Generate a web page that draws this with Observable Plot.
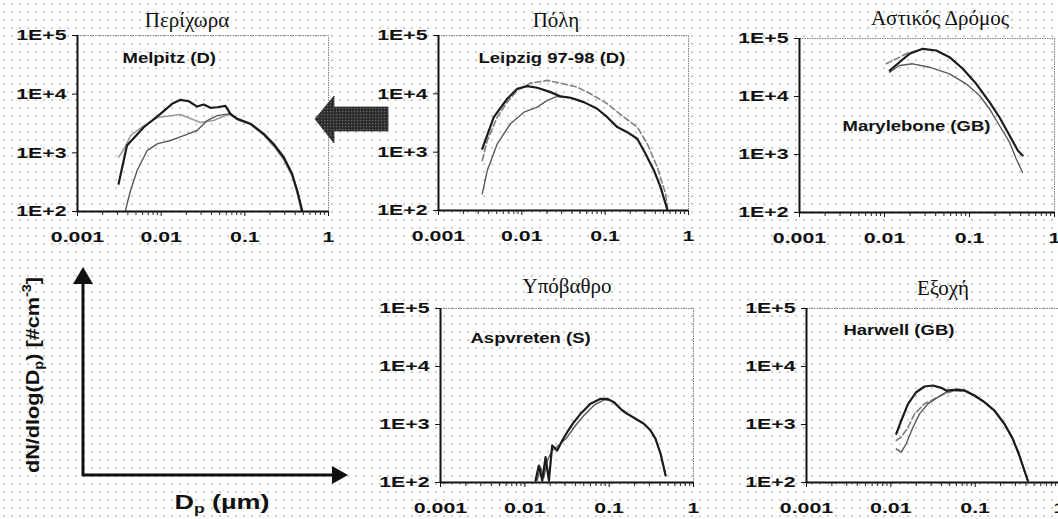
<!DOCTYPE html>
<html><head><meta charset="utf-8">
<script src="https://cdn.jsdelivr.net/npm/d3@7"></script>
<script src="https://cdn.jsdelivr.net/npm/@observablehq/plot@0.6"></script>
<style>
html,body{margin:0;padding:0;background:#fff;}
#wrap{position:relative;width:1058px;height:519px;overflow:hidden;
 background-color:#fff;
 background-image:radial-gradient(circle,#cdcdcd 0.8px,transparent 1.2px);background-size:8px 8px;}
.ptitle{font-family:"Liberation Serif","DejaVu Serif","Times New Roman",serif;font-size:21px;fill:#111;}
</style></head>
<body><div id="wrap"></div>
<script>
// ---------- data ----------
const xTickValues = [0.001, 0.01, 0.1, 1];
const xTickLabels = ["0.001", "0.01", "0.1", "1"];
const yTickValues = [100, 1000, 10000, 100000];
const yTickLabels = ["1E+2", "1E+3", "1E+4", "1E+5"];
const xMinorTicks = [2,3,4,5,6,7,8,9].flatMap(k => [k*0.001, k*0.01, k*0.1]);

const panelTitles = ["Περίχωρα", "Πόλη", "Αστικός Δρόμος", "Υπόβαθρο", "Εξοχή"];
const siteNames = ["Melpitz (D)", "Leipzig 97-98 (D)", "Marylebone (GB)", "Aspvreten (S)", "Harwell (GB)"];
const yAxisLabel = "dN/dlog(D";
const xAxisLabel = "D";

// Melpitz (D)
const melpitzDark = [[0.0031,297],[0.0039,1330],[0.0062,2730],[0.0098,4610],[0.0135,6840],[0.017,8000],[0.0214,7570],[0.0269,6150],[0.0323,6650],[0.0388,5850],[0.0467,5990],[0.0586,6320],[0.0673,4610],[0.081,3790],[0.117,3120],[0.168,2110],[0.221,1420],[0.292,841],[0.367,439],[0.422,228],[0.484,104]];
const melpitzMid = [[0.0031,841],[0.0037,1245],[0.0043,1970],[0.0062,2900],[0.009,3990],[0.017,4490],[0.0295,3280],[0.0422,3550],[0.0673,4670],[0.081,3700],[0.117,3050],[0.168,2000],[0.221,1300],[0.292,760],[0.367,400],[0.42,210],[0.47,104]];
const melpitzLow = [[0.00374,104],[0.0043,228],[0.00516,499],[0.0068,1094],[0.00895,1420],[0.0129,1622],[0.0186,1970],[0.0269,2400],[0.0355,3550],[0.0467,4310],[0.0643,4610],[0.081,3750],[0.117,3080],[0.168,2050],[0.221,1350],[0.292,800],[0.367,420],[0.44,190],[0.48,104]];
// Leipzig 97-98 (D)
const leipzigDark = [[0.00335,1143],[0.00461,3980],[0.00668,8240],[0.00881,12200],[0.0116,13560],[0.0153,12700],[0.0221,10700],[0.0292,9020],[0.0385,8560],[0.0555,7210],[0.0803,5550],[0.106,3980],[0.14,2690],[0.184,2200],[0.243,1700],[0.305,940],[0.385,486],[0.462,251],[0.556,104]];
const leipzigDash = [[0.00335,721],[0.00385,1585],[0.00507,3980],[0.00668,7210],[0.00881,11430],[0.0127,15250],[0.0202,16990],[0.0292,15250],[0.0462,13030],[0.0668,10000],[0.106,6760],[0.168,3980],[0.243,2690],[0.32,1393],[0.422,553],[0.531,193],[0.56,110]];
const leipzigGray = [[0.00335,193],[0.00385,486],[0.00507,1393],[0.00731,3070],[0.0106,4850],[0.0153,5920],[0.0202,7710],[0.0266,9020],[0.0385,8560],[0.0555,7210]];
// Marylebone (GB)
const maryUpper = [[0.0115,28000],[0.015,39000],[0.0197,54400],[0.0282,66400],[0.0406,62100],[0.0582,47600],[0.0834,30100],[0.12,16560],[0.172,7980],[0.225,4390],[0.296,2130],[0.37,1170],[0.421,962]];
const maryLower = [[0.0115,26200],[0.015,34200],[0.0215,36600],[0.0338,32000],[0.0582,24600],[0.0914,16560],[0.131,10400],[0.172,6140],[0.225,3160],[0.296,1630],[0.354,843],[0.421,490]];
const maryDash = [[0.0105,36600],[0.0135,44000],[0.018,54400],[0.024,62000]];
// Aspvreten (S)
const aspDark = [[0.0134,108],[0.01466,196],[0.0161,108],[0.0176,273],[0.0193,108],[0.0211,435],[0.0242,356],[0.0278,530],[0.0318,736],[0.0381,1096],[0.0458,1527],[0.0601,2275],[0.079,2770],[0.0948,2770],[0.1138,2430],[0.1364,1862],[0.164,1527],[0.206,1253],[0.258,1028],[0.31,788],[0.355,566],[0.407,312],[0.467,132]];
const aspGray = [[0.014,108],[0.01535,184],[0.0168,123],[0.01845,239],[0.0211,356],[0.0265,465],[0.0318,604],[0.0399,962],[0.0501,1430],[0.0658,2130],[0.0865,2665],[0.104,2590],[0.1247,2130],[0.149,1630],[0.1795,1430],[0.206,1253],[0.258,1028],[0.31,788],[0.355,566],[0.407,312],[0.467,132]];
// Harwell (GB)
const harDark = [[0.0116,692],[0.0133,1172],[0.016,2275],[0.02,3600],[0.0251,4520],[0.0315,4700],[0.0396,4290],[0.0454,3850],[0.0569,3960],[0.0747,3850],[0.0981,3160],[0.1288,2430],[0.169,1742],[0.222,1028],[0.279,566],[0.334,292],[0.383,161],[0.421,108]];
const harGray = [[0.0116,381],[0.0133,333],[0.0152,465],[0.0183,897],[0.0219,1527],[0.0275,2275],[0.0362,2960],[0.0475,3750],[0.0624,4120],[0.0747,3900],[0.0981,3200],[0.1288,2450],[0.169,1760],[0.222,1040],[0.279,575],[0.334,300],[0.383,165],[0.421,108]];
const harDash = [[0.0116,530],[0.0133,604],[0.016,897],[0.0191,1527],[0.0251,2275],[0.033,2770],[0.0434,3380],[0.0569,3850],[0.0747,3800],[0.0981,3100],[0.1288,2400],[0.169,1720],[0.222,1010],[0.279,560],[0.334,290],[0.383,160],[0.421,108]];

const panelSeries = [
  [["light", melpitzMid], ["gray", melpitzLow], ["dark", melpitzDark]],
  [["dash", leipzigDash], ["gray", leipzigGray], ["dark", leipzigDark]],
  [["dash", maryDash], ["gray", maryLower], ["dark", maryUpper]],
  [["gray", aspGray], ["dark", aspDark]],
  [["dash", harDash], ["gray", harGray], ["dark", harDark]]
];

// ---------- layout & styles ----------
const layout = [
  {l:77,  t:35,  r:328,  b:211, tx:187, ty:27,  dx:45, dy:23},
  {l:438, t:35,  r:688,  b:210, tx:556, ty:27,  dx:40, dy:23},
  {l:799, t:38,  r:1054, b:212, tx:940, ty:25,  dx:43, dy:88},
  {l:440, t:308, r:693,  b:482, tx:567, ty:293, dx:30, dy:30},
  {l:806, t:308, r:1059, b:482, tx:943, ty:295, dx:37, dy:22}
];
const lineStyles = {
  dark:  {stroke:"#1c1c1c", strokeWidth:2.2},
  gray:  {stroke:"#5a5a5a", strokeWidth:1.4},
  light: {stroke:"#9a9a9a", strokeWidth:1.5},
  dash:  {stroke:"#808080", strokeWidth:1.6, strokeDasharray:"6,3"}
};
const mL = 76, mT = 12, mR = 12, mB = 40;
const sansFont = "'Liberation Sans', Arial, Helvetica, sans-serif";

const wrap = document.getElementById("wrap");

layout.forEach((L, i) => {
  const marks = [
    Plot.frame({stroke:"#7a7a7a", strokeWidth:1, strokeDasharray:"1.5,1"}),
    ...panelSeries[i].map(([style, data]) =>
      Plot.line(data, {x: d => d[0], y: d => d[1], ...lineStyles[style], clip: true, strokeLinejoin:"round"})),
    Plot.ruleX([xTickValues[0]], {stroke:"#111", strokeWidth:2}),
    Plot.ruleY([yTickValues[0]], {stroke:"#111", strokeWidth:2}),
    Plot.axisX(xMinorTicks, {anchor:"bottom", tickSize:4, tickFormat: () => "", color:"#222"}),
    Plot.axisX(xTickValues, {anchor:"bottom", tickSize:5, tickPadding:15,
      tickFormat: d => xTickLabels[xTickValues.indexOf(d)], color:"#111"}),
    Plot.axisY(yTickValues, {anchor:"left", tickSize:5, tickPadding:6,
      tickFormat: d => yTickLabels[yTickValues.indexOf(d)], color:"#111"}),
    Plot.text([siteNames[i]], {text: d => d, frameAnchor:"top-left", dx:L.dx, dy:L.dy,
      textAnchor:"start", lineAnchor:"middle", fontSize:14, fill:"#111"})
  ];
  const svg = Plot.plot({
    width: (L.r - L.l) + mL + mR,
    height: (L.b - L.t) + mT + mB,
    marginLeft: mL, marginRight: mR, marginTop: mT, marginBottom: mB,
    x: {type:"log", domain:[xTickValues[0], xTickValues[xTickValues.length-1]]},
    y: {type:"log", domain:[yTickValues[0], yTickValues[yTickValues.length-1]]},
    style: {background:"transparent", fontFamily: sansFont, fontSize:"15px", fontWeight:"bold", color:"#111", overflow:"visible", maxWidth:"none"},
    marks
  });
  svg.style.position = "absolute";
  svg.style.left = (L.l - mL) + "px";
  svg.style.top = (L.t - mT) + "px";
  wrap.appendChild(svg);
  // horizontally stretched lettering, as in the scanned original
  svg.querySelectorAll("text").forEach(t => {
    const s = t.textContent;
    if (!s) return;
    const f = siteNames.includes(s) ? 1.32 : 1.42;
    const w = t.getComputedTextLength();
    if (w > 0) {
      t.setAttribute("textLength", (w * f).toFixed(1));
      t.setAttribute("lengthAdjust", "spacingAndGlyphs");
    }
  });
});

// ---------- overlay: titles, arrow, axis sketch ----------
const ov = d3.select(wrap).append("svg")
  .attr("width", 1058).attr("height", 519)
  .style("position", "absolute").style("left", 0).style("top", 0)
  .style("overflow", "visible");

layout.forEach((L, i) => {
  ov.append("text").attr("class", "ptitle").attr("x", L.tx).attr("y", L.ty)
    .attr("text-anchor", "middle")
    .text(panelTitles[i]);
});

// big left-pointing arrow
const defs = ov.append("defs");
const pat = defs.append("pattern").attr("id", "chk").attr("width", 3).attr("height", 3)
  .attr("patternUnits", "userSpaceOnUse");
pat.append("rect").attr("width", 3).attr("height", 3).attr("fill", "#2c2c2c");
pat.append("rect").attr("width", 1.2).attr("height", 1.2).attr("fill", "#6a6a6a");
ov.append("polygon")
  .attr("points", "315,119 334,96 334,107 388,107 388,131 334,131 334,143")
  .attr("fill", "url(#chk)").attr("stroke", "#333").attr("stroke-width", 0.8);

// axis sketch
const g = ov.append("g").attr("fill", "#111").attr("stroke", "#111");
g.append("line").attr("x1", 83).attr("y1", 476).attr("x2", 83).attr("y2", 282).attr("stroke-width", 3);
g.append("polygon").attr("points", "73,284 93,284 83,267").attr("stroke", "none");
g.append("line").attr("x1", 82).attr("y1", 475).attr("x2", 334).attr("y2", 475).attr("stroke-width", 3);
g.append("polygon").attr("points", "332,466 332,484 348,475").attr("stroke", "none");

const yl = ov.append("text")
  .attr("transform", "translate(38.5,375) rotate(-90)")
  .attr("text-anchor", "middle")
  .attr("font-family", sansFont).attr("font-weight", "bold").attr("font-size", 18).attr("fill", "#111")
  .attr("textLength", 196).attr("lengthAdjust", "spacingAndGlyphs");
yl.append("tspan").text(yAxisLabel);
yl.append("tspan").attr("font-size", 12).attr("dy", 4).text("p");
yl.append("tspan").attr("dy", -4).text(") [#cm");
yl.append("tspan").attr("font-size", 12).attr("dy", -8).text("-3");
yl.append("tspan").attr("dy", 8).text("]");

const xl = ov.append("text")
  .attr("x", 222).attr("y", 509)
  .attr("text-anchor", "middle")
  .attr("font-family", sansFont).attr("font-weight", "bold").attr("font-size", 20).attr("fill", "#111")
  .attr("textLength", 95).attr("lengthAdjust", "spacingAndGlyphs");
xl.append("tspan").text(xAxisLabel);
xl.append("tspan").attr("font-size", 13).attr("dy", 4).text("p");
xl.append("tspan").attr("dy", -4).text(" (µm)");
</script>
</body></html>
